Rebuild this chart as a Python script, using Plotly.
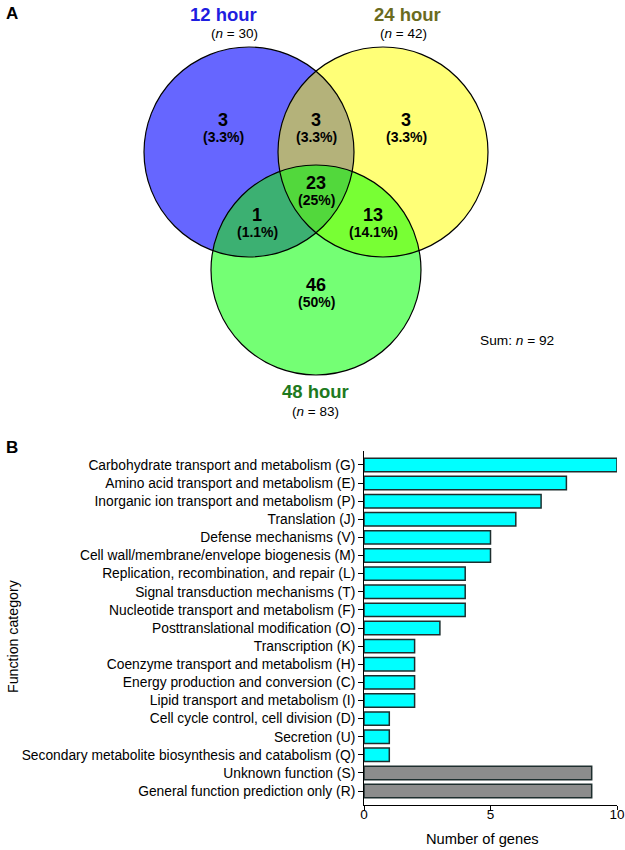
import numpy as np
import plotly.graph_objects as go

# ---------------- Data ----------------
set_names = ["12 hour", "24 hour", "48 hour"]
set_sizes = [30, 42, 83]
total_genes = 92
region_keys = ["A", "AB", "B", "ABC", "AC", "BC", "C"]
region_counts = [3, 3, 3, 23, 1, 13, 46]
region_pcts = ["3.3%", "3.3%", "3.3%", "25%", "1.1%", "14.1%", "50%"]

categories = [
    "Carbohydrate transport and metabolism (G)",
    "Amino acid transport and metabolism (E)",
    "Inorganic ion transport and metabolism (P)",
    "Translation (J)",
    "Defense mechanisms (V)",
    "Cell wall/membrane/envelope biogenesis (M)",
    "Replication, recombination, and repair (L)",
    "Signal transduction mechanisms (T)",
    "Nucleotide transport and metabolism (F)",
    "Posttranslational modification (O)",
    "Transcription (K)",
    "Coenzyme transport and metabolism (H)",
    "Energy production and conversion (C)",
    "Lipid transport and metabolism (I)",
    "Cell cycle control, cell division (D)",
    "Secretion (U)",
    "Secondary metabolite biosynthesis and catabolism (Q)",
    "Unknown function (S)",
    "General function prediction only (R)",
]
gene_counts = [10, 8, 7, 6, 5, 5, 4, 4, 4, 3, 2, 2, 2, 2, 1, 1, 1, 9, 9]
bar_groups = ["known"] * 17 + ["unknown"] * 2
x_ticks = [0, 5, 10]

# ---------------- Layout / style ----------------
W, H = 625, 850
FONT = "Liberation Sans, Arial, Helvetica, sans-serif"
circle_centers = {"A": (249, 152), "B": (383, 152), "C": (316, 270)}
R = 105
region_colors = {
    "A": "#6666FF", "B": "#FFFF77", "C": "#74FF74",
    "AB": "#B4B27A", "AC": "#3CB072", "BC": "#78FF34", "ABC": "#52D83C",
}
label_pos = {
    "A": (223, 120), "AB": (316, 120), "B": (406, 120), "ABC": (316, 183),
    "AC": (257, 215), "BC": (373, 215), "C": (316, 285),
}
title_pos = [((223, 14), (234, 33)), ((407, 14), (403, 33)), ((315, 391), (315, 411))]
title_colors = ["#1E1EE0", "#6B6B1E", "#1E7A1E"]
bar_colors = {"known": "#00FFFF", "unknown": "#8C8C8C"}


def circle_pts(c, n=720):
    t = np.linspace(0, 2 * np.pi, n)
    return c[0] + R * np.cos(t), c[1] + R * np.sin(t)


def intersection_poly(keys, n=4000):
    xs, ys = [], []
    for k in keys:
        x, y = circle_pts(circle_centers[k], n)
        ok = np.ones_like(x, dtype=bool)
        for o in keys:
            if o == k:
                continue
            ox, oy = circle_centers[o]
            ok &= (x - ox) ** 2 + (y - oy) ** 2 <= R * R + 1e-6
        xs.append(x[ok]); ys.append(y[ok])
    xs = np.concatenate(xs); ys = np.concatenate(ys)
    mx, my = xs.mean(), ys.mean()
    order = np.argsort(np.arctan2(ys - my, xs - mx))
    xs, ys = xs[order], ys[order]
    return np.append(xs, xs[0]), np.append(ys, ys[0])


fig = go.Figure()

# Venn fills
for keys in ["A", "B", "C", "AB", "AC", "BC", "ABC"]:
    if len(keys) == 1:
        x, y = circle_pts(circle_centers[keys])
    else:
        x, y = intersection_poly(list(keys))
    fig.add_trace(go.Scatter(x=x, y=y, mode="lines", fill="toself",
                             fillcolor=region_colors[keys], line=dict(width=0),
                             hoverinfo="skip", showlegend=False,
                             xaxis="x2", yaxis="y2"))

shapes = []
for k, (cx, cy) in circle_centers.items():
    shapes.append(dict(type="circle", xref="x2", yref="y2",
                       x0=cx - R, x1=cx + R, y0=cy - R, y1=cy + R,
                       line=dict(color="black", width=1.2), layer="above"))

annotations = []
for key, cnt, pct in zip(region_keys, region_counts, region_pcts):
    px, py = label_pos[key]
    annotations.append(dict(x=px, y=py, xref="x2", yref="y2", text=f"<b>{cnt}</b>",
                            showarrow=False, font=dict(size=18, color="black", family=FONT)))
    annotations.append(dict(x=px, y=py + 17, xref="x2", yref="y2", text=f"<b>({pct})</b>",
                            showarrow=False, font=dict(size=14, color="black", family=FONT)))

for name, n, (tp, npos), col in zip(set_names, set_sizes, title_pos, title_colors):
    annotations.append(dict(x=tp[0], y=tp[1], xref="x2", yref="y2", text=f"<b>{name}</b>",
                            showarrow=False, font=dict(size=18.5, color=col, family=FONT)))
    annotations.append(dict(x=npos[0], y=npos[1], xref="x2", yref="y2",
                            text=f"(<i>n</i> = {n})",
                            showarrow=False, font=dict(size=13.5, color="black", family=FONT)))

annotations.append(dict(x=517, y=340, xref="x2", yref="y2", text=f"Sum: <i>n</i> = {total_genes}",
                        showarrow=False, font=dict(size=13.7, color="black", family=FONT)))
annotations.append(dict(x=12, y=13, xref="x2", yref="y2", text="<b>A</b>",
                        showarrow=False, font=dict(size=17, color="black", family=FONT)))
annotations.append(dict(x=12, y=447, xref="x2", yref="y2", text="<b>B</b>",
                        showarrow=False, font=dict(size=17, color="black", family=FONT)))
annotations.append(dict(x=13, y=636, xref="x2", yref="y2", text="Function category",
                        textangle=-90, showarrow=False,
                        font=dict(size=14.2, color="black", family=FONT)))
annotations.append(dict(x=482, y=839, xref="x2", yref="y2", text="Number of genes",
                        showarrow=False, font=dict(size=14.7, color="black", family=FONT)))

# Bar chart
fig.add_trace(go.Bar(
    x=gene_counts, y=categories, orientation="h",
    marker=dict(color=[bar_colors[g] for g in bar_groups],
                line=dict(color="#1E2E2E", width=1.5)),
    width=0.74, hoverinfo="skip", showlegend=False, xaxis="x", yaxis="y"))

n_cat = len(categories)
fig.update_layout(
    width=W, height=H, margin=dict(l=0, r=0, t=0, b=0, autoexpand=False),
    paper_bgcolor="white", plot_bgcolor="rgba(0,0,0,0)",
    font=dict(family=FONT, color="black"),
    shapes=shapes, annotations=annotations,
    xaxis=dict(domain=[364 / W, 617 / W], range=[0, 10], tickvals=x_ticks,
               showline=True, linecolor="black", linewidth=1, ticks="outside",
               ticklen=4, tickcolor="black", showgrid=False, zeroline=False,
               ticklabelstandoff=-7, automargin=False,
               tickfont=dict(size=13.5, family=FONT), anchor="y"),
    yaxis=dict(domain=[1 - 805 / H, 1 - 451 / H], type="category",
               categoryorder="array", categoryarray=categories,
               range=[n_cat - 1 + 0.77, -0.77], automargin=False,
               showline=True, linecolor="black", linewidth=1, ticks="outside",
               ticklen=5, tickcolor="black", showgrid=False, zeroline=False,
               tickfont=dict(size=13.8, family=FONT), anchor="x"),
    xaxis2=dict(domain=[0, 1], range=[0, W], visible=False, anchor="y2",
                fixedrange=True, automargin=False),
    yaxis2=dict(domain=[0, 1], range=[H, 0], visible=False, anchor="x2",
                fixedrange=True, automargin=False),
)

fig.write_html("out.html", config={"displayModeBar": False},
               post_script="document.body.style.margin='0';")
